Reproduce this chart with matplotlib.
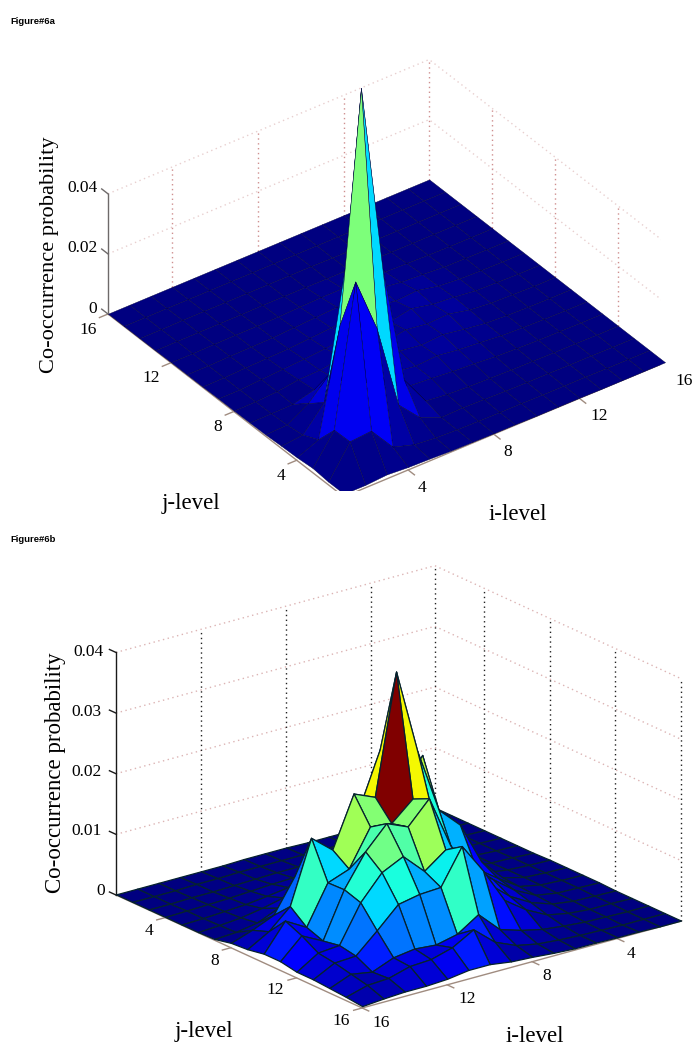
import matplotlib

matplotlib.use("Agg")
import matplotlib.pyplot as plt
import numpy as np
from mpl_toolkits.mplot3d import proj3d

W, H = 696, 1050

LEVELS = np.arange(1, 17)
LEVEL_TICKS = [4, 8, 12, 16]
Z_TICKS_A = [0, 0.02, 0.04]
Z_TICKS_B = [0, 0.01, 0.02, 0.03, 0.04]

# co-occurrence, units of 1e-4, rows j=1..16, columns i=1..16
PROB_A = [
    [10, 10, 15, 10, 8, 5, 4, 3, 3, 2, 2, 2, 1, 1, 1, 1],
    [10, 114, 120, 37, 15, 8, 5, 4, 3, 3, 2, 2, 2, 1, 1, 1],
    [15, 112, 576, 390, 107, 35, 6, 8, 6, 4, 3, 3, 2, 2, 1, 1],
    [10, 40, 390, 1150, 520, 120, 20, 12, 8, 6, 4, 3, 2, 2, 1, 1],
    [8, 15, 93, 520, 200, 60, 30, 25, 18, 14, 8, 5, 3, 2, 1, 1],
    [5, 8, 50, 120, 60, 30, 35, 25, 30, 20, 14, 7, 4, 2, 1, 1],
    [4, 5, 6, 25, 30, 35, 25, 35, 25, 30, 18, 8, 4, 2, 1, 1],
    [3, 4, 8, 18, 20, 30, 35, 22, 35, 25, 28, 12, 5, 3, 1, 1],
    [3, 3, 8, 12, 16, 22, 28, 35, 22, 35, 20, 14, 5, 3, 1, 1],
    [2, 3, 6, 8, 10, 15, 20, 25, 32, 20, 25, 10, 4, 2, 1, 1],
    [2, 2, 4, 5, 6, 10, 14, 18, 16, 22, 12, 8, 3, 2, 1, 1],
    [2, 2, 3, 4, 4, 5, 8, 10, 10, 8, 6, 4, 2, 1, 1, 1],
    [1, 2, 2, 2, 2, 3, 3, 3, 2, 2, 2, 1, 1, 1, 1, 1],
    [1, 1, 2, 2, 2, 2, 2, 2, 2, 1, 1, 1, 1, 1, 1, 1],
    [1, 1, 1, 1, 1, 1, 1, 1, 1, 1, 1, 1, 1, 1, 1, 1],
    [1, 1, 1, 1, 1, 1, 1, 1, 1, 1, 1, 1, 1, 1, 1, 1],
]
PROB_B = [
    [1, 1, 1, 1, 1, 1, 1, 2, 2, 2, 1, 1, 1, 1, 1, 1],
    [1, 2, 2, 2, 2, 2, 3, 3, 3, 3, 3, 2, 2, 1, 1, 1],
    [1, 2, 3, 3, 3, 4, 4, 5, 5, 5, 4, 3, 2, 2, 1, 1],
    [1, 2, 3, 5, 6, 7, 8, 9, 10, 9, 8, 6, 4, 3, 2, 1],
    [1, 2, 3, 6, 8, 12, 15, 18, 20, 18, 15, 10, 6, 4, 2, 1],
    [1, 2, 4, 7, 12, 25, 40, 50, 50, 45, 35, 20, 12, 6, 3, 1],
    [1, 3, 4, 8, 15, 40, 90, 120, 110, 90, 60, 40, 25, 10, 4, 2],
    [2, 3, 5, 10, 25, 90, 232, 180, 260, 170, 100, 60, 90, 35, 20, 8],
    [2, 3, 5, 14, 50, 120, 154, 260, 401, 204, 219, 136, 165, 62, 30, 10],
    [2, 3, 5, 12, 35, 60, 85, 160, 204, 173, 177, 117, 104, 40, 60, 15],
    [2, 3, 4, 10, 28, 55, 80, 130, 217, 180, 195, 158, 105, 30, 48, 15],
    [1, 2, 3, 8, 20, 40, 70, 100, 145, 119, 153, 136, 96, 35, 32, 10],
    [1, 2, 2, 5, 12, 30, 55, 113, 163, 105, 103, 96, 62, 30, 28, 10],
    [1, 1, 2, 3, 6, 10, 18, 29, 63, 40, 32, 35, 30, 16, 22, 8],
    [1, 1, 1, 2, 3, 5, 8, 15, 30, 60, 40, 30, 28, 18, 16, 6],
    [1, 1, 2, 2, 3, 3, 5, 8, 10, 15, 15, 10, 8, 8, 6, 3],
]

plt.rcParams["font.family"] = ["Liberation Serif", "DejaVu Serif"]


def draw_surface(ax, prob, near, line_w, edge):
    """One plot_surface per cell, drawn far to near, coloured by the lowest corner"""
    z = np.array(prob) * 1e-4
    top = z.max()
    order = range(14, -1, -1) if near == 1 else range(15)
    zorder = 10
    for j in order:
        for i in order:
            xx, yy = np.meshgrid(LEVELS[i : i + 2], LEVELS[j : j + 2])
            ax.plot_surface(
                xx,
                yy,
                z[j : j + 2, i : i + 2],
                color=plt.cm.jet(z[j, i] / top),
                edgecolor=edge,
                linewidth=line_w,
                shade=False,
                rstride=1,
                cstride=1,
                zorder=zorder,
                clip_on=False,
            )
            zorder += 1


def draw_box(ax, near, z_ticks, axis_color, zaxis_color, level_color, pink):
    far = 17 - near
    out = 1 if near == 16 else -1
    dots = (0, (1, 2.5))
    for z in z_ticks[1:]:
        ax.plot([near, far, far], [far, far, near], [z, z, z], color=pink, lw=1, ls=dots, zorder=1)
    for i in sorted(set(LEVEL_TICKS + [far])):
        if i != near:
            ax.plot([i, i], [far, far], [0, z_ticks[-1]], color=level_color, lw=1, ls=dots, zorder=2)
    for j in LEVEL_TICKS:
        if j != far:
            ax.plot([far, far], [j, j], [0, z_ticks[-1]], color=level_color, lw=1, ls=dots, zorder=2)

    # front axes, with their tick marks, and the z axis in the left corner
    ax.plot([near, near], [near, far], [0, 0], color=axis_color, lw=1, zorder=3)
    ax.plot([near, far], [near, near], [0, 0], color=axis_color, lw=1, zorder=3)
    ax.plot([near, near], [far, far], [0, z_ticks[-1]], color=zaxis_color, lw=1, zorder=3)
    for t in LEVEL_TICKS:
        ax.plot([near, near + out * 0.4], [t, t], [0, 0], color=axis_color, lw=1, zorder=3)
        ax.plot([t, t], [near, near + out * 0.4], [0, 0], color=axis_color, lw=1, zorder=3)
    back = -1 if far == 1 else 1
    for z in z_ticks:
        ax.plot([near, near], [far, far + back * 0.4], [z, z], color=zaxis_color, lw=1, zorder=3)


def fit_axes(ax, p1, t1, p2, t2):
    """Resize and move the axes so two data points land on two target pixels"""

    def px(p):
        xs, ys, _ = proj3d.proj_transform(*p, ax.get_proj())
        x, y = ax.transData.transform((xs, ys))
        return np.array([x, H - y])

    ax.apply_aspect()
    scale = np.linalg.norm(np.subtract(t2, t1)) / np.linalg.norm(px(p2) - px(p1))
    l, b, w, h = ax.get_position(original=True).bounds
    ax.set_position([l, b, w * scale, h * scale])
    ax.apply_aspect()
    dx, dy = np.subtract(t1, px(p1))
    l, b, w, h = ax.get_position(original=True).bounds
    ax.set_position([l + dx / W, b - dy / H, w, h])
    ax.apply_aspect()


def make_panel(fig, prob, near, elev, azim, aspect, z_ticks, t1, t2, colors, line_w, edge):
    size = 600
    ax = fig.add_axes(
        [0.1, 0.1, size / W, size / H], projection="3d", computed_zorder=False
    )
    ax.set_proj_type("ortho")
    ax.view_init(elev=elev, azim=azim)
    ax.set_box_aspect(aspect)
    draw_box(ax, near, z_ticks, *colors)
    draw_surface(ax, prob, near, line_w, edge)
    ax.set_xlim(1, 16, view_margin=0)
    ax.set_ylim(1, 16, view_margin=0)
    ax.set_zlim(0, z_ticks[-1], view_margin=0)
    ax.set_axis_off()
    far = 17 - near
    fit_axes(ax, (near, far, 0), t1, (far, near, 0), t2)
    return ax


def label(fig, x, y, text, size=12.5, **kw):
    fig.text(x / W, 1 - y / H, text, fontsize=size, ha="center", va="center", **kw)


fig = plt.figure(figsize=(W / 100, H / 100), dpi=100)

make_panel(
    fig, PROB_A, 1, 34.7, 233.7, (398, 398, 146), Z_TICKS_A, (108, 314), (665, 363),
    ("#a08c80", "#6e6a6a", "#cf8f8f", "#e8cfcf"), 0.3, "#000040",
)
make_panel(
    fig, PROB_B, 16, 20.7, 52.4, (402, 403, 259), Z_TICKS_B, (116, 895), (681, 921),
    ("#a08c80", "#1a1a1a", "#222222", "#dcb4b4"), 0.9, "#06222e",
)

for text, y in [("Figure#6a", 22), ("Figure#6b", 539)]:
    fig.text(
        10 / W, 1 - y / H, text, fontsize=6.8, fontweight="bold",
        family=["Liberation Sans", "DejaVu Sans"], va="center",
    )

# figure 6a texts
for t, x, y in zip(LEVEL_TICKS, [281, 218, 151, 88], [476, 427, 378, 330]):
    label(fig, x, y, str(t))
for t, x, y in zip(LEVEL_TICKS, [422, 508, 599, 684], [488, 452, 416, 381]):
    label(fig, x, y, str(t))
for t, x, y in zip(Z_TICKS_A, [93, 82, 82], [309, 248, 188]):
    label(fig, x, y, f"{t:g}")
label(fig, 191, 503, "j-level", 16.5)
label(fig, 518, 515, "i-level", 16.5)
label(fig, 50, 255, "Co-occurrence probability", 16.1, rotation=90)

# figure 6b texts
for t, x, y in zip(LEVEL_TICKS, [149, 215, 275, 341], [931, 961, 990, 1021]):
    label(fig, x, y, str(t))
for t, x, y in zip(LEVEL_TICKS, [631, 547, 467, 381], [954, 976, 999, 1023]):
    label(fig, x, y, str(t))
for t, x, y in zip(Z_TICKS_B, [101, 86, 86, 86, 88], [891, 831, 772, 712, 652]):
    label(fig, x, y, f"{t:g}")
label(fig, 204, 1031, "j-level", 16.5)
label(fig, 535, 1036, "i-level", 16.5)
label(fig, 56, 773, "Co-occurrence probability", 16.5, rotation=90)

fig.savefig("out.png", dpi=100)
